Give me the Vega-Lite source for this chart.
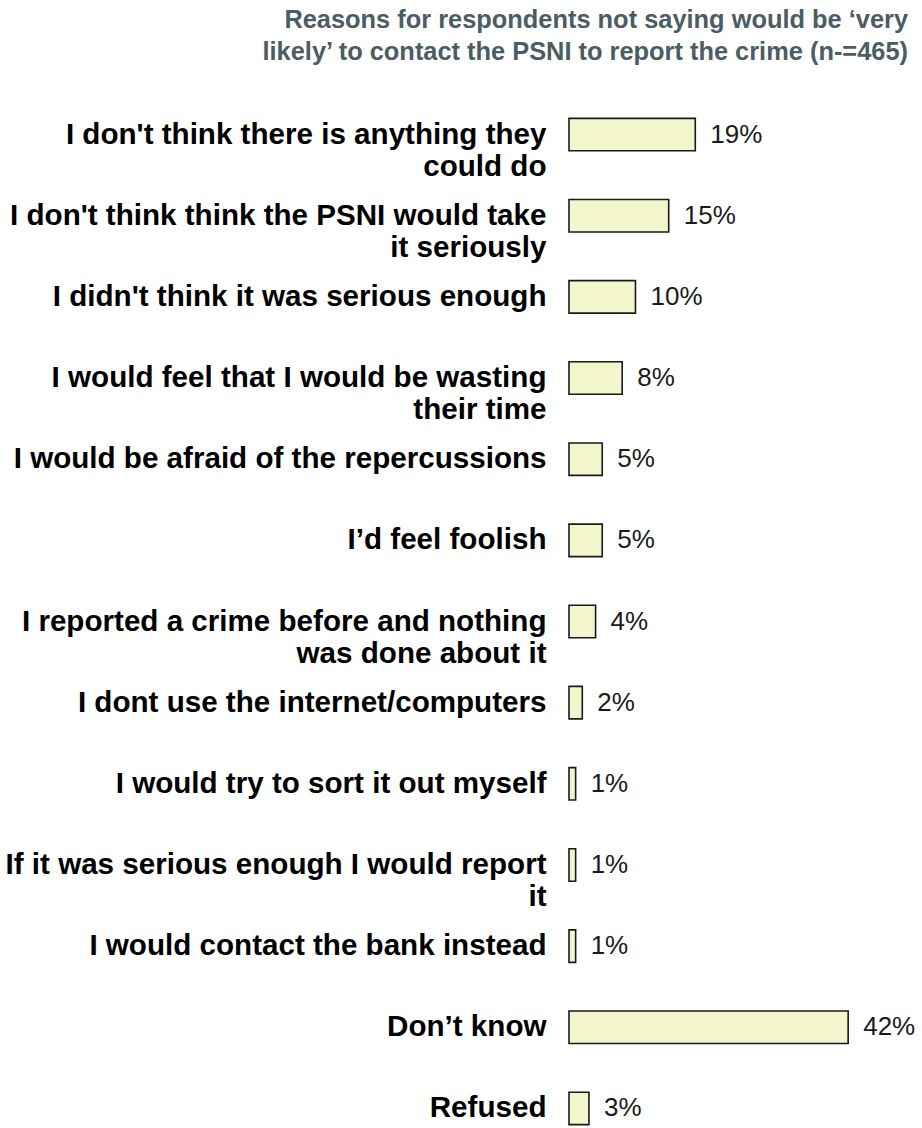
{
  "$schema": "https://vega.github.io/schema/vega-lite/v6.json",
  "width": 339,
  "height": 1055,
  "background": "white",
  "padding": {"top": 7, "left": 5, "right": 5, "bottom": 5},
  "config": {"view": {"stroke": null}, "font": "Liberation Sans"},
  "title": {
    "text": ["Reasons for respondents not saying would be ‘very", "likely’ to contact the PSNI to report the crime (n-=465)"],
    "anchor": "end",
    "align": "right",
    "frame": "group",
    "font": "Liberation Sans",
    "fontSize": 25.4,
    "fontWeight": "bold",
    "color": "#4a5d64",
    "lineHeight": 32,
    "offset": 29
  },
  "data": {
    "values": [
      {"reason": "I don't think there is anything they|could do", "pct": 0.19},
      {"reason": "I don't think think the PSNI would take|it seriously", "pct": 0.15},
      {"reason": "I didn't think it was serious enough", "pct": 0.10},
      {"reason": "I would feel that I would be wasting|their time", "pct": 0.08},
      {"reason": "I would be afraid of the repercussions", "pct": 0.05},
      {"reason": "I’d feel foolish", "pct": 0.05},
      {"reason": "I reported a crime before and nothing|was done about it", "pct": 0.04},
      {"reason": "I dont use the internet/computers", "pct": 0.02},
      {"reason": "I would try to sort it out myself", "pct": 0.01},
      {"reason": "If it was serious enough I would report|it", "pct": 0.01},
      {"reason": "I would contact the bank instead", "pct": 0.01},
      {"reason": "Don’t know", "pct": 0.42},
      {"reason": "Refused", "pct": 0.03}
    ]
  },
  "encoding": {
    "y": {
      "field": "reason",
      "type": "nominal",
      "sort": null,
      "scale": {"paddingInner": 0.6, "paddingOuter": 0.3},
      "axis": {
        "title": null,
        "domain": false,
        "ticks": false,
        "labelExpr": "split(datum.label, '|')",
        "labelFont": "Liberation Sans",
        "labelFontSize": 29.6,
        "labelFontWeight": "bold",
        "labelColor": "#000000",
        "labelLineHeight": 32,
        "labelPadding": 23,
        "labelLimit": 0
      }
    },
    "x": {
      "field": "pct",
      "type": "quantitative",
      "scale": {"domain": [0, 0.51], "nice": false},
      "axis": null
    }
  },
  "layer": [
    {
      "mark": {"type": "bar", "fill": "#f3f5cc", "stroke": "#1a1a1a", "strokeWidth": 1.6}
    },
    {
      "mark": {"type": "text", "align": "left", "baseline": "middle", "dx": 15, "font": "Liberation Sans", "fontSize": 26, "color": "#1a1a1a"},
      "encoding": {"text": {"field": "pct", "type": "quantitative", "format": ".0%"}}
    }
  ]
}
